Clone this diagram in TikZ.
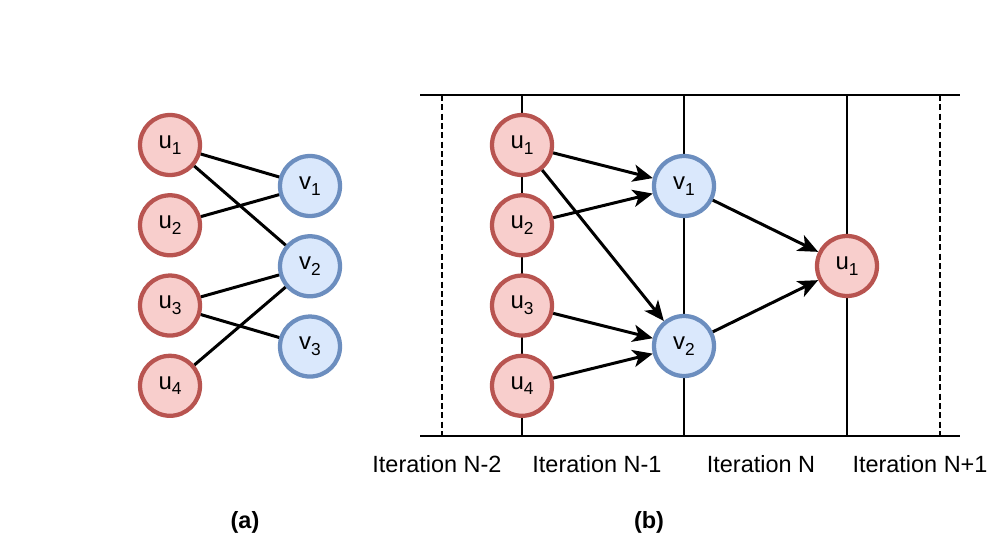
\documentclass[tikz,border=0pt]{standalone}
\usepackage{fontspec}
\setmainfont{Liberation Sans}
\usetikzlibrary{arrows.meta,positioning}
\definecolor{redfill}{HTML}{F8CECC}
\definecolor{redline}{HTML}{B85450}
\definecolor{bluefill}{HTML}{DAE8FC}
\definecolor{blueline}{HTML}{6C8EBF}
\newcommand{\sub}[1]{\raisebox{-0.45ex}{\fontsize{13}{14}\selectfont #1}}
\tikzset{
  vertex/.style={circle,line width=3.2pt,minimum size=45pt,inner sep=0pt,
                 font=\fontsize{18}{20}\selectfont},
  unode/.style={vertex,draw=redline,fill=redfill},
  vnode/.style={vertex,draw=blueline,fill=bluefill},
  edge/.style={line width=2.25pt},
  flow/.style={edge,-{Stealth[length=15pt,width=13pt,inset=4pt]}},
  iterline/.style={line width=1.1pt},
  futureline/.style={iterline,dash pattern=on 4.5pt off 2.5pt},
  iterlabel/.style={font=\fontsize{17.6}{21}\selectfont},
  caption/.style={font=\fontsize{17.6}{21}\selectfont\bfseries}
}

\begin{document}
\begin{tikzpicture}[x=0.75pt,y=-0.75pt,node distance=12pt]
  \useasboundingbox (0,0) rectangle (989,542);
  % (a) bipartite graph
  \node[unode] (a-u1) at (170,145) {u\sub{1}};
  \node[unode,below=of a-u1] (a-u2) {u\sub{2}};
  \node[unode,below=of a-u2] (a-u3) {u\sub{3}};
  \node[unode,below=of a-u3] (a-u4) {u\sub{4}};
  \node[vnode] (a-v1) at (310,186) {v\sub{1}};
  \node[vnode,below=of a-v1] (a-v2) {v\sub{2}};
  \node[vnode,below=of a-v2] (a-v3) {v\sub{3}};
  \draw[edge] (a-u1) -- (a-v1); \draw[edge] (a-u1) -- (a-v2);
  \draw[edge] (a-u2) -- (a-v1); \draw[edge] (a-u3) -- (a-v2);
  \draw[edge] (a-u3) -- (a-v3); \draw[edge] (a-u4) -- (a-v2);
  \node[caption] (cap-a) at (245,522) {(a)};
  % (b) iterations
  \draw[iterline] (420,95) -- (960,95);
  \draw[iterline] (420,436) -- (960,436);
  \foreach \x in {442,940} \draw[futureline] (\x,95) -- (\x,436);
  \foreach \x in {522,684,847} \draw[iterline] (\x,95) -- (\x,436);
  \node[unode] (b-u1) at (522,145) {u\sub{1}};
  \node[unode,below=of b-u1] (b-u2) {u\sub{2}};
  \node[unode,below=of b-u2] (b-u3) {u\sub{3}};
  \node[unode,below=of b-u3] (b-u4) {u\sub{4}};
  \node[vnode] (b-v1) at (684,186) {v\sub{1}};
  \node[vnode] (b-v2) at (684,346) {v\sub{2}};
  \node[unode] (b-w1) at (847,266) {u\sub{1}};
  \draw[flow] (b-u1) -- (b-v1); \draw[flow] (b-u1) -- (b-v2);
  \draw[flow] (b-u2) -- (b-v1); \draw[flow] (b-u3) -- (b-v2);
  \draw[flow] (b-u4) -- (b-v2);
  \draw[flow] (b-v1) -- (b-w1); \draw[flow] (b-v2) -- (b-w1);
  \node[iterlabel] (it-1) at (437,464) {Iteration N-2};
  \node[iterlabel] (it-2) at (597,464) {Iteration N-1};
  \node[iterlabel] (it-3) at (761,464) {Iteration N};
  \node[iterlabel] (it-4) at (920,464) {Iteration N+1};
  \node[caption] (cap-b) at (649,522) {(b)};
\end{tikzpicture}
\end{document}
